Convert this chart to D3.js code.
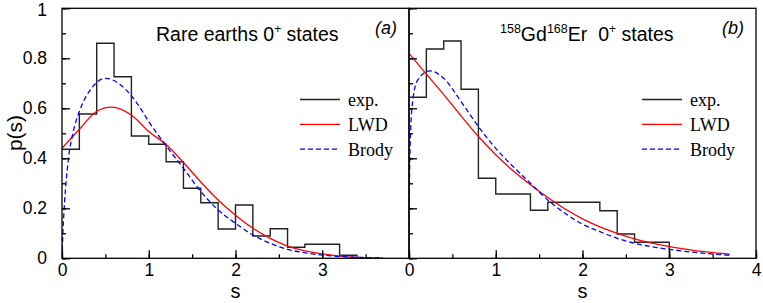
<!DOCTYPE html>
<html>
<head>
<meta charset="utf-8">
<script src="https://cdn.jsdelivr.net/npm/d3@7"></script>
<style>
  body { margin: 0; background: #fff; }
  svg { display: block; }
  .axis path, .axis line { stroke: #000; stroke-width: 1.3; }
  .axis text { font-family: "Liberation Sans", Arial, sans-serif; font-size: 17.5px; fill: #000; }
  .lbl { font-family: "Liberation Sans", Arial, sans-serif; fill: #000; }
  .leg { font-family: "Liberation Serif", "Times New Roman", serif; font-size: 18px; fill: #000; }
</style>
</head>
<body>
<svg width="763" height="303"></svg>
<script>
// histogram bins, width 0.2 starting at s = 0
var binWidth = 0.2;
var expA = [0.436, 0.577, 0.86, 0.726, 0.489, 0.456, 0.386, 0.28, 0.222, 0.117, 0.213, 0.089, 0.118, 0.044, 0.056, 0.056, 0.012];
var expB = [0.644, 0.837, 0.869, 0.676, 0.32, 0.257, 0.257, 0.192, 0.224, 0.224, 0.224, 0.19, 0.097, 0.064, 0.064];

// LWD curves
var lwdA_s = [0, 0.2, 0.4, 0.57, 0.8, 1.0, 1.2, 1.4, 1.6, 1.8, 2.0, 2.2, 2.4, 2.6, 2.8, 3.0, 3.2, 3.4, 3.7];
var lwdA_p = [0.44, 0.516, 0.588, 0.605, 0.573, 0.507, 0.455, 0.383, 0.305, 0.233, 0.172, 0.12, 0.08, 0.049, 0.03, 0.018, 0.009, 0.004, 0.001];
var lwdB_s = [0, 0.2, 0.4, 0.6, 0.8, 1.0, 1.2, 1.4, 1.6, 1.8, 2.0, 2.2, 2.4, 2.6, 2.8, 3.0, 3.2, 3.4, 3.7];
var lwdB_p = [0.82, 0.737, 0.655, 0.57, 0.487, 0.414, 0.35, 0.294, 0.243, 0.197, 0.158, 0.126, 0.1, 0.078, 0.061, 0.047, 0.036, 0.027, 0.017];

// Brody curves
var brodyA_s = [0, 0.01, 0.03, 0.07, 0.13, 0.2, 0.34, 0.5, 0.72, 0.88, 1.0, 1.2, 1.4, 1.6, 1.8, 2.0, 2.2, 2.4, 2.6, 2.8, 3.0, 3.2, 3.4, 3.7];
var brodyA_p = [0, 0.1, 0.226, 0.386, 0.507, 0.587, 0.68, 0.72, 0.68, 0.613, 0.547, 0.45, 0.36, 0.267, 0.193, 0.14, 0.093, 0.06, 0.036, 0.022, 0.013, 0.007, 0.004, 0.001];
var brodyB_s = [0, 0.005, 0.02, 0.047, 0.1, 0.24, 0.4, 0.6, 0.8, 1.0, 1.2, 1.4, 1.6, 1.8, 2.0, 2.2, 2.4, 2.6, 2.8, 3.0, 3.2, 3.4, 3.7];
var brodyB_p = [0, 0.3, 0.52, 0.64, 0.713, 0.75, 0.72, 0.627, 0.527, 0.44, 0.367, 0.3, 0.233, 0.18, 0.136, 0.107, 0.08, 0.06, 0.046, 0.036, 0.027, 0.02, 0.012];

var xTicksA = [0, 1, 2, 3];
var xTicksB = [0, 1, 2, 3, 4];
var yTicks = [0, 0.2, 0.4, 0.6, 0.8, 1];
var legendNames = ["exp.", "LWD", "Brody"];

var svg = d3.select("svg");
var y = d3.scaleLinear().domain([0, 1]).range([258.3, 8.3]);

var panels = [
  { x: d3.scaleLinear().domain([0, 4]).range([62, 409]), exp: expA, ls: lwdA_s, lp: lwdA_p, bs: brodyA_s, bp: brodyA_p,
    ticks: xTicksA, yLabels: true, tag: "(a)", legX: 300 },
  { x: d3.scaleLinear().domain([0, 4]).range([409, 756]), exp: expB, ls: lwdB_s, lp: lwdB_p, bs: brodyB_s, bp: brodyB_p,
    ticks: xTicksB, yLabels: false, tag: "(b)", legX: 642 }
];

var line = function (x) {
  return d3.line().x(function (d) { return x(d[0]); }).y(function (d) { return y(d[1]); });
};

panels.forEach(function (p, i) {
  var x = p.x;
  var g = svg.append("g");

  svg.append("clipPath").attr("id", "clip" + i)
    .append("rect").attr("x", x(0)).attr("y", y(1)).attr("width", x(4) - x(0)).attr("height", y(0) - y(1));

  // histogram as step line
  var pts = p.exp.map(function (v, k) { return [k * binWidth, v]; });
  pts.push([p.exp.length * binWidth, p.exp[p.exp.length - 1]]);
  pts.push([p.exp.length * binWidth, 0]);
  g.append("path")
    .attr("clip-path", "url(#clip" + i + ")")
    .attr("d", line(x).curve(d3.curveStepAfter)(pts))
    .attr("fill", "none").attr("stroke", "#222").attr("stroke-width", 1.4);

  var lwd = p.ls.map(function (s, k) { return [s, p.lp[k]]; });
  var brody = p.bs.map(function (s, k) { return [s, p.bp[k]]; });

  g.append("path")
    .attr("clip-path", "url(#clip" + i + ")")
    .attr("d", line(x).curve(d3.curveMonotoneX)(lwd))
    .attr("fill", "none").attr("stroke", "#ff0000").attr("stroke-width", 1.3);
  g.append("path")
    .attr("clip-path", "url(#clip" + i + ")")
    .attr("d", line(x).curve(d3.curveMonotoneX)(brody))
    .attr("fill", "none").attr("stroke", "#0000ff").attr("stroke-width", 1.3)
    .attr("stroke-dasharray", "5,3");

  // frame
  g.append("rect")
    .attr("x", x(0)).attr("y", y(1)).attr("width", x(4) - x(0)).attr("height", y(0) - y(1))
    .attr("fill", "none").attr("stroke", "#000").attr("stroke-width", 1.3);

  // x axis, ticks inside
  g.append("g").attr("class", "axis")
    .attr("transform", "translate(0," + y(0) + ")")
    .call(d3.axisBottom(x).tickValues(d3.range(0, 4.01, 0.5)).tickSize(-4).tickFormat(""))
    .call(function (a) { a.select(".domain").remove(); });
  g.append("g").attr("class", "axis")
    .attr("transform", "translate(0," + y(0) + ")")
    .call(d3.axisBottom(x).tickValues(p.ticks).tickSizeInner(-8).tickSizeOuter(0).tickPadding(15).tickFormat(d3.format("d")))
    .call(function (a) { a.select(".domain").remove(); a.selectAll("text").attr("dy", "0.15em"); });

  // y axis, ticks inside
  g.append("g").attr("class", "axis")
    .attr("transform", "translate(" + x(0) + ",0)")
    .call(d3.axisLeft(y).tickValues(d3.range(0, 1.001, 0.1)).tickSize(-4).tickFormat(""))
    .call(function (a) { a.select(".domain").remove(); });
  var ya = g.append("g").attr("class", "axis")
    .attr("transform", "translate(" + x(0) + ",0)")
    .call(d3.axisLeft(y).tickValues(yTicks).tickSizeInner(-8).tickSizeOuter(0).tickPadding(15)
      .tickFormat(function (d) { return d3.format("")(+d.toFixed(1)); }))
    .call(function (a) { a.select(".domain").remove(); });
  if (!p.yLabels) ya.selectAll("text").remove();
  ya.selectAll("text").filter(function (d) { return d === 1; }).attr("dy", "0.42em");

  // axis title
  g.append("text").attr("class", "lbl")
    .attr("x", (x(0) + x(4)) / 2).attr("y", 298)
    .attr("text-anchor", "middle").attr("font-size", 20).text("s");

  // panel tag
  g.append("text").attr("class", "lbl")
    .attr("x", x(4) - 12).attr("y", 34)
    .attr("text-anchor", "end").attr("font-size", 18).attr("font-style", "italic").text(p.tag);

  // legend
  var styles = [
    { stroke: "#222", dash: null },
    { stroke: "#ff0000", dash: null },
    { stroke: "#0000ff", dash: "5,3" }
  ];
  legendNames.forEach(function (name, k) {
    var ly = 99.5 + k * 24.8;
    g.append("line")
      .attr("x1", p.legX).attr("x2", p.legX + 40).attr("y1", ly).attr("y2", ly)
      .attr("stroke", styles[k].stroke).attr("stroke-width", 1.3)
      .attr("stroke-dasharray", styles[k].dash);
    g.append("text").attr("class", "leg")
      .attr("x", p.legX + 48).attr("y", ly + 6.5).text(name);
  });
});

// y axis title
svg.append("text").attr("class", "lbl")
  .attr("transform", "translate(22,133) rotate(-90)")
  .attr("text-anchor", "middle").attr("font-size", 21).text("p(s)");

// panel titles
var t1 = svg.append("text").attr("class", "lbl").attr("x", 156).attr("y", 41).attr("font-size", 19.5);
t1.append("tspan").text("Rare earths 0");
t1.append("tspan").attr("font-size", 12).attr("dy", -8.5).text("+");
t1.append("tspan").attr("dy", 8.5).text(" states");

var t2 = svg.append("text").attr("class", "lbl").attr("x", 500).attr("y", 41).attr("font-size", 19.5);
t2.append("tspan").attr("font-size", 12.5).attr("dy", -8.5).text("158");
t2.append("tspan").attr("dy", 8.5).text("Gd");
t2.append("tspan").attr("font-size", 12.5).attr("dy", -8.5).text("168");
t2.append("tspan").attr("dy", 8.5).text("Er");
t2.append("tspan").attr("dx", 11).text("0");
t2.append("tspan").attr("font-size", 12).attr("dy", -8.5).text("+");
t2.append("tspan").attr("dy", 8.5).text(" states");
</script>
</body>
</html>
